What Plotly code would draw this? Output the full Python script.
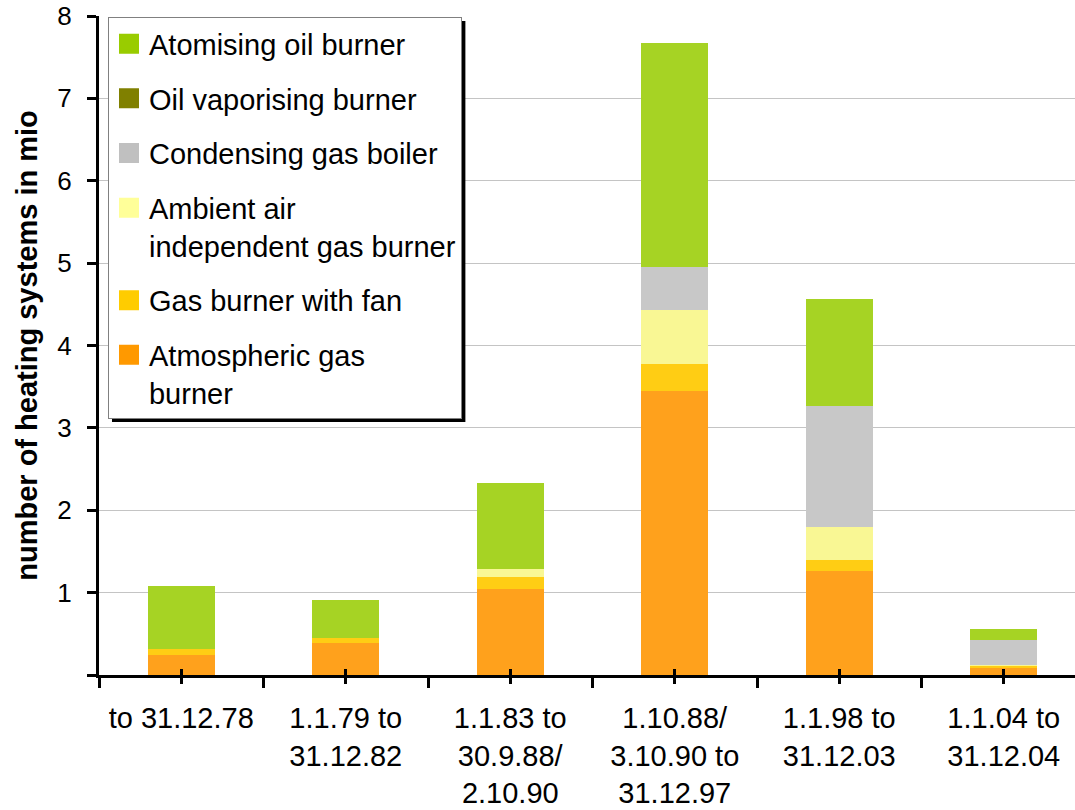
import plotly.graph_objects as go

# Installation periods (x categories)
periods = [
    "to 31.12.78",
    "1.1.79 to<br>31.12.82",
    "1.1.83 to<br>30.9.88/<br>2.10.90",
    "1.10.88/<br>3.10.90 to<br>31.12.97",
    "1.1.98 to<br>31.12.03",
    "1.1.04 to<br>31.12.04",
]

# Number of heating systems in mio, per burner type
atmospheric_gas = [0.24, 0.39, 1.045, 3.45, 1.26, 0.09]
gas_fan = [0.07, 0.06, 0.145, 0.33, 0.14, 0.02]
ambient_air_gas = [0.0, 0.0, 0.10, 0.65, 0.40, 0.01]
condensing_gas = [0.0, 0.0, 0.0, 0.52, 1.47, 0.31]
oil_vaporising = [0.0, 0.0, 0.0, 0.0, 0.0, 0.0]
atomising_oil = [0.77, 0.46, 1.04, 2.72, 1.29, 0.13]

y_ticks = [0, 1, 2, 3, 4, 5, 6, 7, 8]
y_tick_text = ["", "1", "2", "3", "4", "5", "6", "7", "8"]

# (name, values, bar fill, legend swatch), stacked bottom to top
series = [
    ("Atmospheric gas<br>burner", atmospheric_gas, "#ffa11c", "#ff9900"),
    ("Gas burner with fan", gas_fan, "#ffcd14", "#ffcc00"),
    ("Ambient air<br>independent gas burner", ambient_air_gas, "#f9f794", "#ffff99"),
    ("Condensing gas boiler", condensing_gas, "#c8c8c8", "#c0c0c0"),
    ("Oil vaporising burner", oil_vaporising, "#808000", "#808000"),
    ("Atomising oil burner", atomising_oil, "#a6d324", "#99cc00"),
]

pos = list(range(len(periods)))
FONT = "Liberation Sans, Arial, sans-serif"

fig = go.Figure()
n = len(series)
for i, (name, vals, fill, swatch) in enumerate(series):
    grp = f"g{i}"
    fig.add_trace(go.Bar(
        x=pos, y=vals, name=name, width=0.41,
        marker=dict(color=fill, line=dict(width=0)),
        legendgroup=grp, showlegend=False,
    ))
    # legend swatch for the group (top of the stack listed first)
    fig.add_trace(go.Scatter(
        x=[None], y=[None], mode="markers", name=name, legendgroup=grp,
        legendrank=n - i,
        marker=dict(symbol="square", size=16, color=swatch,
                    line=dict(color=swatch, width=4)),
    ))

# inside tick marks at category centres
fig.add_trace(go.Scatter(x=[None], y=[None], xaxis="x2", showlegend=False))

x_range = [-0.5, 5.433]

# drop shadow behind the legend box
fig.add_shape(type="rect", xref="paper", yref="paper",
              x0=0.0133, x1=0.3754, y0=0.384, y1=0.9924,
              fillcolor="black", line=dict(width=0), layer="above")

fig.update_layout(
    width=1075, height=810,
    margin=dict(l=99, r=0, t=16, b=135),
    barmode="stack",
    plot_bgcolor="white", paper_bgcolor="white",
    font=dict(family=FONT, size=29, color="black"),
    showlegend=True,
    legend=dict(
        x=0.0092, y=0.998, xanchor="left", yanchor="top",
        bgcolor="white", bordercolor="#808080", borderwidth=1,
        traceorder="grouped", tracegroupgap=14, valign="top",
        font=dict(family=FONT, size=29, color="black"),
    ),
    xaxis=dict(
        range=x_range, tickmode="array", tickvals=pos, ticktext=periods,
        ticks="outside", ticklen=6, tickwidth=3, tickcolor="black",
        showline=True, linecolor="black", linewidth=3,
        showgrid=False, zeroline=False, automargin=False,
        tickfont=dict(family=FONT, size=29, color="black"),
        ticklabelstandoff=9,
        minor=dict(tickmode="array", tickvals=[-0.5, 0.5, 1.5, 2.5, 3.5, 4.5, 5.5],
                   ticks="outside", ticklen=10, tickwidth=3, tickcolor="black",
                   showgrid=False),
    ),
    xaxis2=dict(
        overlaying="x", range=x_range, tickmode="array", tickvals=pos,
        ticks="inside", ticklen=6, tickwidth=3, tickcolor="black",
        showticklabels=False, showgrid=False, showline=False, zeroline=False,
        side="bottom", anchor="y", automargin=False,
    ),
    yaxis=dict(
        range=[0, 8], tickmode="array", tickvals=y_ticks, ticktext=y_tick_text,
        ticks="outside", ticklen=9, tickwidth=3, tickcolor="black",
        showline=True, linecolor="black", linewidth=3,
        showgrid=True, gridcolor="#c4c4c4", gridwidth=1, zeroline=False,
        automargin=False,
        tickfont=dict(family=FONT, size=26, color="black"),
        ticklabelstandoff=10,
        title=dict(text="<b>number of heating systems in mio</b>",
                   font=dict(family=FONT, size=29, color="black"), standoff=12),
    ),
)

fig.write_html("out.html")
